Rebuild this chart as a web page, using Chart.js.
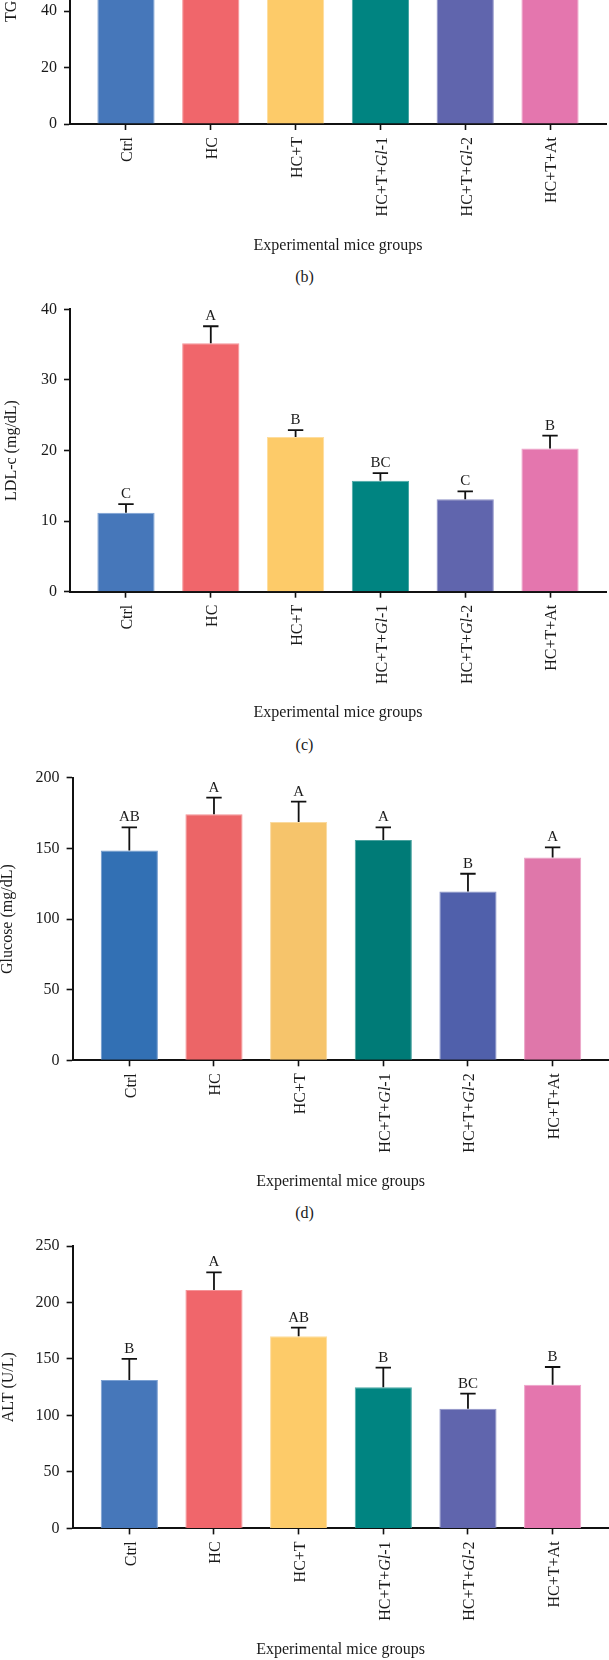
<!DOCTYPE html>
<html>
<head>
<meta charset="utf-8">
<script src="https://cdn.jsdelivr.net/npm/chart.js@4/dist/chart.umd.min.js"></script>
<style>
html,body{margin:0;padding:0;background:#fff;}
body{width:609px;height:1660px;overflow:hidden;position:relative;}
canvas{position:absolute;left:0;}
.cap{position:absolute;left:0;width:609px;text-align:center;font:16px/20px "Liberation Serif",serif;color:#1a1a1a;}
</style>
</head>
<body>
<script>
// ---------- data ----------
const categories = ["Ctrl", "HC", "HC+T", "HC+T+Gl-1", "HC+T+Gl-2", "HC+T+At"];
const xAxisTitle = "Experimental mice groups";

// (b) TG – bar tops are cut off in the figure (only values above ~44 are certain)
const tgMeans   = [62, 88, 74, 66, 58, 70];
const tgErrors  = [0, 0, 0, 0, 0, 0];
const tgLetters = ["", "", "", "", "", ""];
const tgTicks   = [0, 20, 40, 60, 80, 100];

// (c) LDL-c
const ldlMeans   = [11.2, 35.2, 21.9, 15.7, 13.1, 20.3];
const ldlErrors  = [1.2, 2.4, 1.0, 1.1, 1.1, 1.8];
const ldlLetters = ["C", "A", "B", "BC", "C", "B"];
const ldlTicks   = [0, 10, 20, 30, 40];

// (d) Glucose
const gluMeans   = [148.5, 174.2, 168.8, 156.0, 119.6, 143.7];
const gluErrors  = [16.5, 11.8, 14.4, 9.0, 12.5, 7.1];
const gluLetters = ["AB", "A", "A", "A", "B", "A"];
const gluTicks   = [0, 50, 100, 150, 200];

// (e) ALT
const altMeans   = [131.3, 211.0, 170.0, 124.9, 106.0, 127.2];
const altErrors  = [18.7, 15.7, 7.7, 17.4, 13.3, 15.7];
const altLetters = ["B", "A", "AB", "B", "BC", "B"];
const altTicks   = [0, 50, 100, 150, 200, 250];

// ---------- styles ----------
const FAM = '"Liberation Serif", "Times New Roman", serif';
const INK = '#1a1a1a';
const colorsA = ['#4677BA', '#F0666B', '#FDCB69', '#008481', '#6065AD', '#E476AE'];
const bordersA = ['#7CA1D3', '#F59498', '#FEDD9E', '#4AA8A5', '#8E92C7', '#EEA3C9'];
const colorsB = ['#3270B4', '#EC6567', '#F6C46B', '#007B77', '#5060AB', '#DF77AA'];
const bordersB = ['#6E98CC', '#F29295', '#FADA9E', '#4AA29F', '#8590C6', '#EAA2C6'];

const CANVAS_H = 462;
const PLOT_H = 282.4;

function annotPlugin(means, errs, letters) {
  return {
    id: 'annot',
    afterDatasetsDraw(chart) {
      const ctx = chart.ctx;
      const xs = chart.scales.x, ys = chart.scales.y;
      ctx.save();
      means.forEach((m, i) => {
        const px = xs.getPixelForValue(i);
        const y0 = ys.getPixelForValue(m);
        const y1 = ys.getPixelForValue(m + errs[i]);
        if (errs[i] > 0) {
          ctx.strokeStyle = '#111';
          ctx.lineWidth = 1.8;
          ctx.beginPath();
          ctx.moveTo(px, y0);
          ctx.lineTo(px, y1);
          ctx.moveTo(px - 7.7, y1);
          ctx.lineTo(px + 7.7, y1);
          ctx.stroke();
        }
        if (letters[i]) {
          ctx.fillStyle = INK;
          ctx.font = '15px ' + FAM;
          ctx.textAlign = 'center';
          ctx.textBaseline = 'alphabetic';
          ctx.fillText(letters[i], px, y1 - 6);
        }
      });
      categories.forEach((lab, i) => {
        const px = xs.getPixelForValue(i);
        const parts = lab.split(/(Gl)/).filter(s => s.length);
        const fonts = parts.map(p => (p === 'Gl' ? 'italic ' : '') + '16px ' + FAM);
        let W = 0;
        const widths = parts.map((p, k) => { ctx.font = fonts[k]; const w = ctx.measureText(p).width; W += w; return w; });
        ctx.save();
        ctx.translate(px + 6.3, xs.top + 13);
        ctx.rotate(-Math.PI / 2);
        ctx.fillStyle = INK;
        ctx.textAlign = 'left';
        ctx.textBaseline = 'alphabetic';
        let cx = -W;
        parts.forEach((p, k) => { ctx.font = fonts[k]; ctx.fillText(p, cx, 0); cx += widths[k]; });
        ctx.restore();
      });
      ctx.restore();
    }
  };
}

function makePanel(p) {
  const canvasTop = Math.floor(p.plotTop - 40);
  const padTop = p.plotTop - canvasTop;
  const xH = CANVAS_H - padTop - PLOT_H;
  const titlePadBottom = xH - 8 - 121.5;
  const cv = document.createElement('canvas');
  cv.width = 609; cv.height = CANVAS_H;
  cv.style.width = '609px'; cv.style.height = CANVAS_H + 'px';
  cv.style.top = canvasTop + 'px';
  document.body.appendChild(cv);

  const ticks = p.ticks;
  new Chart(cv, {
    type: 'bar',
    data: {
      datasets: [{
        data: p.means.map((v, i) => ({ x: i, y: v })),
        backgroundColor: p.colors,
        borderColor: p.borders,
        borderWidth: { left: 1, right: 1, top: 1, bottom: 0 },
        borderSkipped: false,
        categoryPercentage: 1,
        barPercentage: 0.675
      }]
    },
    options: {
      responsive: false,
      animation: false,
      devicePixelRatio: 1,
      layout: { padding: { top: padTop, left: 0, right: 609 - p.axisRight, bottom: 0 } },
      plugins: { legend: { display: false }, tooltip: { enabled: false } },
      scales: {
        x: {
          type: 'linear',
          offset: false,
          min: p.xMin, max: p.xMax,
          afterBuildTicks: s => { s.ticks = categories.map((_, i) => ({ value: i })); },
          afterFit: s => { s.height = xH; },
          ticks: { display: false },
          grid: { display: true, offset: false, drawOnChartArea: false, drawTicks: true, tickLength: 6, tickWidth: 1.6, tickColor: '#111' },
          border: { display: true, color: '#111', width: 2 },
          title: { display: true, text: xAxisTitle, color: INK, font: { family: FAM, size: 16, lineHeight: 1 }, padding: { top: 0, bottom: titlePadBottom } }
        },
        y: {
          min: ticks[0], max: ticks[ticks.length - 1],
          afterBuildTicks: s => { s.ticks = ticks.map(v => ({ value: v })); },
          afterFit: s => { s.width = p.axisX; },
          ticks: { color: INK, font: { family: FAM, size: 16 }, padding: 7 },
          grid: { display: true, drawOnChartArea: false, drawTicks: true, tickLength: 6, tickWidth: 1.6, tickColor: '#111' },
          border: { display: true, color: '#111', width: 2 },
          title: { display: true, text: p.yTitle, color: INK, font: { family: FAM, size: 16, lineHeight: 1 }, padding: { top: p.yTitlePad, bottom: 0 } }
        }
      }
    },
    plugins: [annotPlugin(p.means, p.errs, p.letters)]
  });

  if (p.caption) {
    const d = document.createElement('div');
    d.className = 'cap';
    d.style.top = (p.captionY - 11.4) + 'px';
    d.textContent = p.caption;
    document.body.appendChild(d);
  }
}

makePanel({ plotTop: -158.4, axisX: 70, axisRight: 606, xMin: -0.66, xMax: 5.66,
  means: tgMeans, errs: tgErrors, letters: tgLetters, ticks: tgTicks,
  colors: colorsA, borders: bordersA, yTitle: 'TG (mg/dL)', yTitlePad: 4, caption: '(b)', captionY: 278.3 });

makePanel({ plotTop: 309.3, axisX: 70, axisRight: 606, xMin: -0.66, xMax: 5.66,
  means: ldlMeans, errs: ldlErrors, letters: ldlLetters, ticks: ldlTicks,
  colors: colorsA, borders: bordersA, yTitle: 'LDL-c (mg/dL)', yTitlePad: 3.5, caption: '(c)', captionY: 746.3 });

makePanel({ plotTop: 777.9, axisX: 72.6, axisRight: 608.5, xMin: -0.67, xMax: 5.66,
  means: gluMeans, errs: gluErrors, letters: gluLetters, ticks: gluTicks,
  colors: colorsB, borders: bordersB, yTitle: 'Glucose (mg/dL)', yTitlePad: 0, caption: '(d)', captionY: 1214.5 });

makePanel({ plotTop: 1246, axisX: 72.6, axisRight: 608.5, xMin: -0.67, xMax: 5.66,
  means: altMeans, errs: altErrors, letters: altLetters, ticks: altTicks,
  colors: colorsA, borders: bordersA, yTitle: 'ALT (U/L)', yTitlePad: 0.5, caption: null });
</script>
</body>
</html>
